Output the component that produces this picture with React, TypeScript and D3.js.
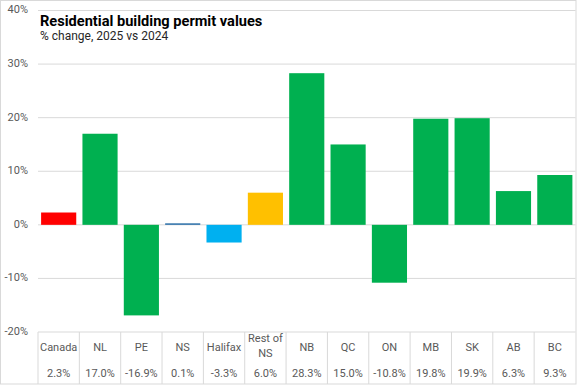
import React from 'react';
import * as d3 from 'd3';

const categories = ['Canada', 'NL', 'PE', 'NS', 'Halifax', 'Rest of NS', 'NB', 'QC', 'ON', 'MB', 'SK', 'AB', 'BC'];
const values = [2.3, 17.0, -16.9, 0.1, -3.3, 6.0, 28.3, 15.0, -10.8, 19.8, 19.9, 6.3, 9.3];
const barColors = ['#ff0000', '#00b050', '#00b050', '#2a6fa8', '#00b0f0', '#ffc000', '#00b050', '#00b050', '#00b050', '#00b050', '#00b050', '#00b050', '#00b050'];
const yTicks = [-20, -10, 0, 10, 20, 30, 40];

const W = 577;
const H = 385;
const font = 'Roboto, "Noto Sans", sans-serif';

const App = () => {
    // plot area
    const left = 38;
    const right = 575.5;
    const tableBottom = 384;

    const x = d3.scaleBand<string>()
        .domain(categories)
        .range([left, right])
        .paddingInner(0.15)
        .paddingOuter(0.075);

    const y = d3.scaleLinear()
        .domain([-20, 40])
        .range([332, 10.5]);

    const step = x.step();
    const bandStart = (c: string) => left + categories.indexOf(c) * step;

    // tiny values still get a visible sliver on the right side of zero
    const barTop = (v: number) => v >= 0 ? Math.min(y(v), y(0) - 1.5) : y(0);
    const barHeight = (v: number) => Math.max(1.5, Math.abs(y(v) - y(0)));

    return (
        <svg width={W} height={H} style={{ position: 'fixed', left: 0, top: 0, background: '#fff' }}>
            <rect x={0.5} y={0.5} width={W - 1.5} height={H - 1.5} fill="#fff" stroke="#d9d9d9" />

            {/* gridlines */}
            {yTicks.map(t => (
                <line key={t} x1={left} x2={right} y1={y(t)} y2={y(t)} stroke="#d9d9d9" strokeWidth={1} />
            ))}
            {yTicks.map(t => (
                <text key={'l' + t} x={28} y={y(t)} textAnchor="end" dominantBaseline="middle"
                    fontFamily={font} fontSize={11} fill="#595959">{t}%</text>
            ))}

            {/* bars */}
            {categories.map((c, i) => (
                <rect key={c}
                    x={x(c)}
                    width={x.bandwidth()}
                    y={barTop(values[i])}
                    height={barHeight(values[i])}
                    fill={barColors[i]} />
            ))}

            {/* data table */}
            {categories.map(c => (
                <line key={'v' + c} x1={bandStart(c)} x2={bandStart(c)} y1={y(-20)} y2={tableBottom} stroke="#d9d9d9" />
            ))}
            {categories.map((c, i) => {
                const cx = bandStart(c) + step / 2;
                const lines = c === 'Rest of NS' ? ['Rest of', 'NS'] : [c];
                return (
                    <g key={'t' + c} fontFamily={font} fontSize={11} fill="#595959" textAnchor="middle">
                        {lines.length === 1
                            ? <text x={cx} y={348} dominantBaseline="middle">{c}</text>
                            : lines.map((l, j) => (
                                <text key={l} x={cx} y={339 + j * 15} dominantBaseline="middle">{l}</text>
                            ))}
                        <text x={cx} y={374} dominantBaseline="middle">{values[i].toFixed(1)}%</text>
                    </g>
                );
            })}

            {/* title */}
            <text x={40} y={26} fontFamily={font} fontSize={14.6} fontWeight="bold" fill="#000">
                Residential building permit values
            </text>
            <text x={40} y={40} fontFamily={font} fontSize={12} fill="#262626">
                % change, 2025 vs 2024
            </text>
        </svg>
    );
};

export default App;
